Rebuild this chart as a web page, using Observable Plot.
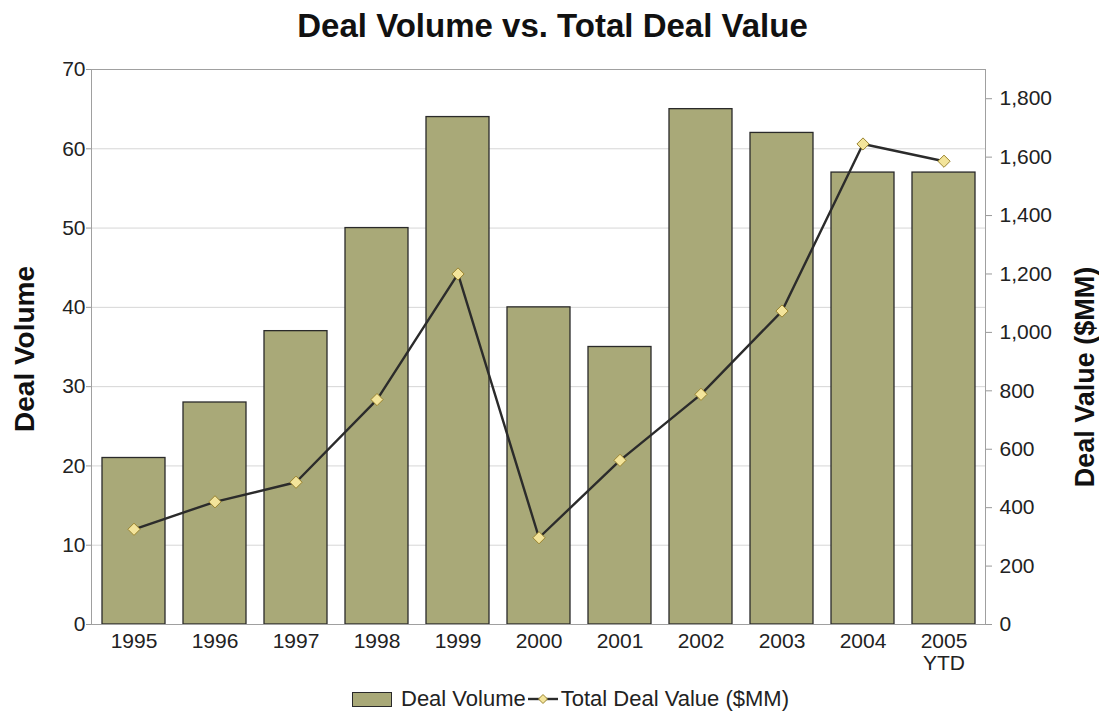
<!DOCTYPE html>
<html><head><meta charset="utf-8">
<script src="https://cdn.jsdelivr.net/npm/d3@7"></script>
<script src="https://cdn.jsdelivr.net/npm/@observablehq/plot@0.6"></script>
<style>
body{margin:0;background:#fff;font-family:"Liberation Sans",Arial,sans-serif;width:1099px;overflow:hidden;}
#title{height:50px;line-height:52px;text-align:center;font-weight:bold;font-size:33px;color:#111;padding-left:6px;}
#chart svg{display:block;}
#legend{height:36px;padding-top:5px;display:flex;align-items:center;padding-left:352px;font-size:22px;color:#222;}
.sw{width:38px;height:13px;background:#a9a978;border:1px solid #2a2a2a;margin-right:9px;}
.ln{margin:0 3px 0 2px;}
</style></head><body>
<div id="title">Deal Volume vs. Total Deal Value</div>
<div id="chart"></div>
<div id="legend"><div class="sw"></div><span>Deal Volume</span>
<svg class="ln" width="30" height="14"><line x1="0" y1="7" x2="30" y2="7" stroke="#2b2b2b" stroke-width="2.4"/><path d="M15,2.5 L19.5,7 L15,11.5 L10.5,7 Z" fill="#f3e49a" stroke="#9a8430" stroke-width="1"/></svg>
<span>Total Deal Value ($MM)</span></div>
<script>
const years = ["1995","1996","1997","1998","1999","2000","2001","2002","2003","2004","2005\nYTD"];
const dealVolume = [21,28,37,50,64,40,35,65,62,57,57];
const dealValue = [326,420,487,770,1200,297,562,788,1073,1645,1586];
const volumeTicks = [0,10,20,30,40,50,60,70];
const valueTicks = [0,200,400,600,800,1000,1200,1400,1600,1800];
const volumeMax = 70;
const valueMax = 1900;

const toLeft = v => v * volumeMax / valueMax;
const rows = years.map((y, i) => ({year: y, volume: dealVolume[i], value: dealValue[i], valueScaled: toLeft(dealValue[i])}));
const fmt = d3.format(",");

const chart = Plot.plot({
  width: 1099, height: 626,
  marginLeft: 91, marginRight: 114, marginTop: 19, marginBottom: 52,
  style: {fontFamily: "'Liberation Sans', Arial, sans-serif", fontSize: "21px", color: "#222", background: "#fff"},
  x: {domain: years, paddingInner: 0.225, paddingOuter: 0.1125, label: null},
  y: {domain: [0, volumeMax], label: null},
  marks: [
    Plot.gridY(volumeTicks.filter(t => t > 0 && t < volumeMax), {stroke: "#d6d6d6", strokeOpacity: 1}),
    Plot.barY(rows, {x: "year", y: "volume", fill: "#a9a978", stroke: "#2a2a2a", strokeWidth: 1.3}),
    Plot.frame({stroke: "#a0a0a0"}),
    Plot.axisY(volumeTicks, {anchor: "left", tickSize: 5, tickPadding: 1, label: null, stroke: "#999"}),
    Plot.axisY(valueTicks.map(toLeft), {anchor: "right", tickSize: 6, tickPadding: 8, label: null, stroke: "#999",
      tickFormat: d => fmt(Math.round(d * valueMax / volumeMax))}),
    Plot.axisX({tickSize: 0, tickPadding: 8, lineHeight: 1.05, label: null}),
    Plot.line(rows, {x: "year", y: "valueScaled", stroke: "#2b2b2b", strokeWidth: 2.4}),
    Plot.dot(rows, {x: "year", y: "valueScaled", symbol: "diamond2", r: 5.5, fill: "#f3e49a", stroke: "#9a8430", strokeWidth: 1}),
    Plot.text(["Deal Volume"], {frameAnchor: "left", textAnchor: "middle", rotate: -90, dx: -66, dy: 2, fontSize: 28, fontWeight: "bold", fill: "#111"}),
    Plot.text(["Deal Value ($MM)"], {frameAnchor: "right", textAnchor: "middle", rotate: -90, dx: 100, dy: 30, fontSize: 27, fontWeight: "bold", fill: "#111"})
  ]
});
document.getElementById("chart").appendChild(chart);
</script>
</body></html>
